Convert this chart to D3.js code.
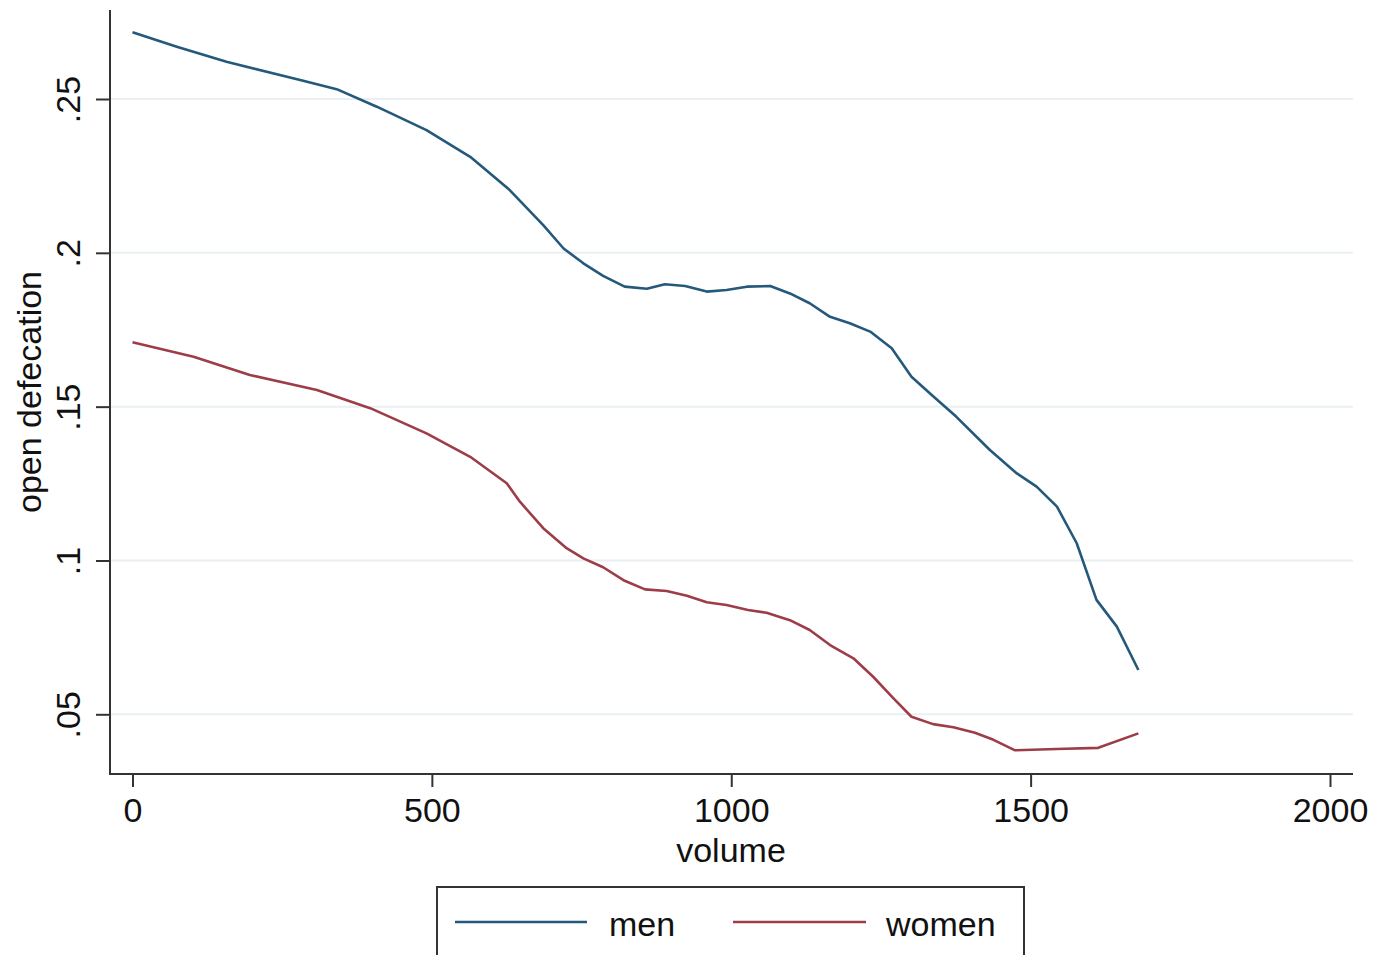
<!DOCTYPE html>
<html>
<head>
<meta charset="utf-8">
<script src="https://cdn.jsdelivr.net/npm/d3@7"></script>
<style>
  body { margin: 0; background: #fff; }
  svg { display: block; font-family: "Liberation Sans", Arial, Helvetica, sans-serif; }
  .tick text { font-size: 34px; fill: #111; }
  .title { font-size: 34px; fill: #111; }
  .legend-label { font-size: 34px; fill: #111; }
</style>
</head>
<body>
<svg width="1376" height="955"></svg>
<script>
// volume (x) and open defecation share (y) for each group
var menX = [0, 74, 157, 280, 341, 408, 491, 564, 630, 686, 720, 753, 786, 822, 859, 889, 923, 959, 992, 1026, 1065, 1098, 1131, 1165, 1198, 1232, 1268, 1301, 1332, 1376, 1432, 1477, 1510, 1544, 1577, 1610, 1644, 1680];
var menY = [0.2717, 0.2670, 0.2621, 0.2562, 0.2532, 0.2475, 0.2399, 0.2312, 0.2204, 0.2090, 0.2014, 0.1966, 0.1925, 0.1890, 0.1883, 0.1898, 0.1892, 0.1874, 0.1879, 0.1890, 0.1892, 0.1868, 0.1836, 0.1792, 0.1771, 0.1744, 0.1690, 0.1597, 0.1543, 0.1467, 0.1359, 0.1283, 0.1240, 0.1175, 0.1056, 0.0872, 0.0785, 0.0644];

var womenX = [0, 102, 196, 308, 397, 491, 564, 625, 647, 686, 725, 753, 786, 822, 856, 892, 926, 959, 992, 1028, 1059, 1098, 1131, 1165, 1204, 1237, 1271, 1301, 1337, 1371, 1407, 1438, 1474, 1543, 1613, 1680];
var womenY = [0.1709, 0.1662, 0.1603, 0.1554, 0.1495, 0.1413, 0.1337, 0.1251, 0.1191, 0.1105, 0.1040, 0.1007, 0.0978, 0.0934, 0.0906, 0.0901, 0.0885, 0.0864, 0.0855, 0.0839, 0.0830, 0.0806, 0.0774, 0.0725, 0.0682, 0.0622, 0.0552, 0.0492, 0.0468, 0.0458, 0.0440, 0.0417, 0.0383, 0.0387, 0.0391, 0.0438];

var xTicks = [0, 500, 1000, 1500, 2000];
var yTicks = [0.05, 0.1, 0.15, 0.2, 0.25];

var series = [
  { name: "men",   xs: menX,   ys: menY,   color: "#24597b" },
  { name: "women", xs: womenX, ys: womenY, color: "#9c3d48" }
];

//begin: layout conf.
var plotLeft = 110, plotRight = 1353, plotTop = 10, plotBottom = 774;
var axisColor = "#333";
//end: layout conf.

var svg = d3.select("svg");

var x = d3.scaleLinear().domain([0, 2000]).range([132.5, 1330]);
var y = d3.scaleLinear().domain([0.05, 0.25]).range([714.3, 99]);

function fmtY(d) { return d3.format("")(+d.toFixed(2)).replace(/^0\./, "."); }

// gridlines
svg.append("g")
    .selectAll("line")
    .data(yTicks)
    .enter().append("line")
      .attr("x1", plotLeft).attr("x2", plotRight)
      .attr("y1", function(d){ return y(d); })
      .attr("y2", function(d){ return y(d); })
      .attr("stroke", "#eaf0f2")
      .attr("stroke-width", 2);

// y axis
var yAxis = svg.append("g")
    .attr("transform", "translate(" + plotLeft + ",0)")
    .call(d3.axisLeft(y).tickValues(yTicks).tickSize(14).tickPadding(0).tickFormat(fmtY));
yAxis.select(".domain").remove();
yAxis.selectAll(".tick line").attr("stroke", axisColor).attr("stroke-width", 2);
yAxis.selectAll(".tick text")
    .attr("x", null).attr("dy", null)
    .attr("text-anchor", "middle")
    .attr("transform", "translate(-30,0) rotate(-90)");

// x axis
var xAxis = svg.append("g")
    .attr("transform", "translate(0," + plotBottom + ")")
    .call(d3.axisBottom(x).tickValues(xTicks).tickSize(13).tickPadding(0).tickFormat(d3.format("d")));
xAxis.select(".domain").remove();
xAxis.selectAll(".tick line").attr("stroke", axisColor).attr("stroke-width", 2);
xAxis.selectAll(".tick text").attr("y", 48).attr("dy", null);

// axis lines
svg.append("line")
    .attr("x1", plotLeft).attr("x2", plotLeft)
    .attr("y1", plotTop).attr("y2", plotBottom + 1)
    .attr("stroke", axisColor).attr("stroke-width", 2);
svg.append("line")
    .attr("x1", plotLeft - 1).attr("x2", plotRight)
    .attr("y1", plotBottom).attr("y2", plotBottom)
    .attr("stroke", axisColor).attr("stroke-width", 2);

// axis titles
svg.append("text")
    .classed("title", true)
    .attr("x", 731).attr("y", 862)
    .attr("text-anchor", "middle")
    .text("volume");
svg.append("text")
    .classed("title", true)
    .attr("transform", "translate(41,392) rotate(-90)")
    .attr("text-anchor", "middle")
    .text("open defecation");

// lines
var line = d3.line()
    .x(function(d){ return x(d[0]); })
    .y(function(d){ return y(d[1]); });

svg.append("g")
    .selectAll("path")
    .data(series)
    .enter().append("path")
      .attr("d", function(s){ return line(d3.zip(s.xs, s.ys)); })
      .attr("fill", "none")
      .attr("stroke", function(s){ return s.color; })
      .attr("stroke-width", 2.6)
      .attr("stroke-linejoin", "round");

// legend
var legend = svg.append("g").classed("legend", true);
legend.append("rect")
    .attr("x", 437).attr("y", 887)
    .attr("width", 587).attr("height", 80)
    .attr("fill", "#fff")
    .attr("stroke", axisColor)
    .attr("stroke-width", 2);

var legendPos = [
  { lx1: 455, lx2: 587, tx: 609 },
  { lx1: 733, lx2: 866, tx: 886 }
];
var item = legend.selectAll(".item")
    .data(series)
    .enter().append("g").classed("item", true);
item.append("line")
    .attr("x1", function(d, i){ return legendPos[i].lx1; })
    .attr("x2", function(d, i){ return legendPos[i].lx2; })
    .attr("y1", 922).attr("y2", 922)
    .attr("stroke", function(d){ return d.color; })
    .attr("stroke-width", 2.6);
item.append("text")
    .classed("legend-label", true)
    .attr("x", function(d, i){ return legendPos[i].tx; })
    .attr("y", 936)
    .text(function(d){ return d.name; });
</script>
</body>
</html>
